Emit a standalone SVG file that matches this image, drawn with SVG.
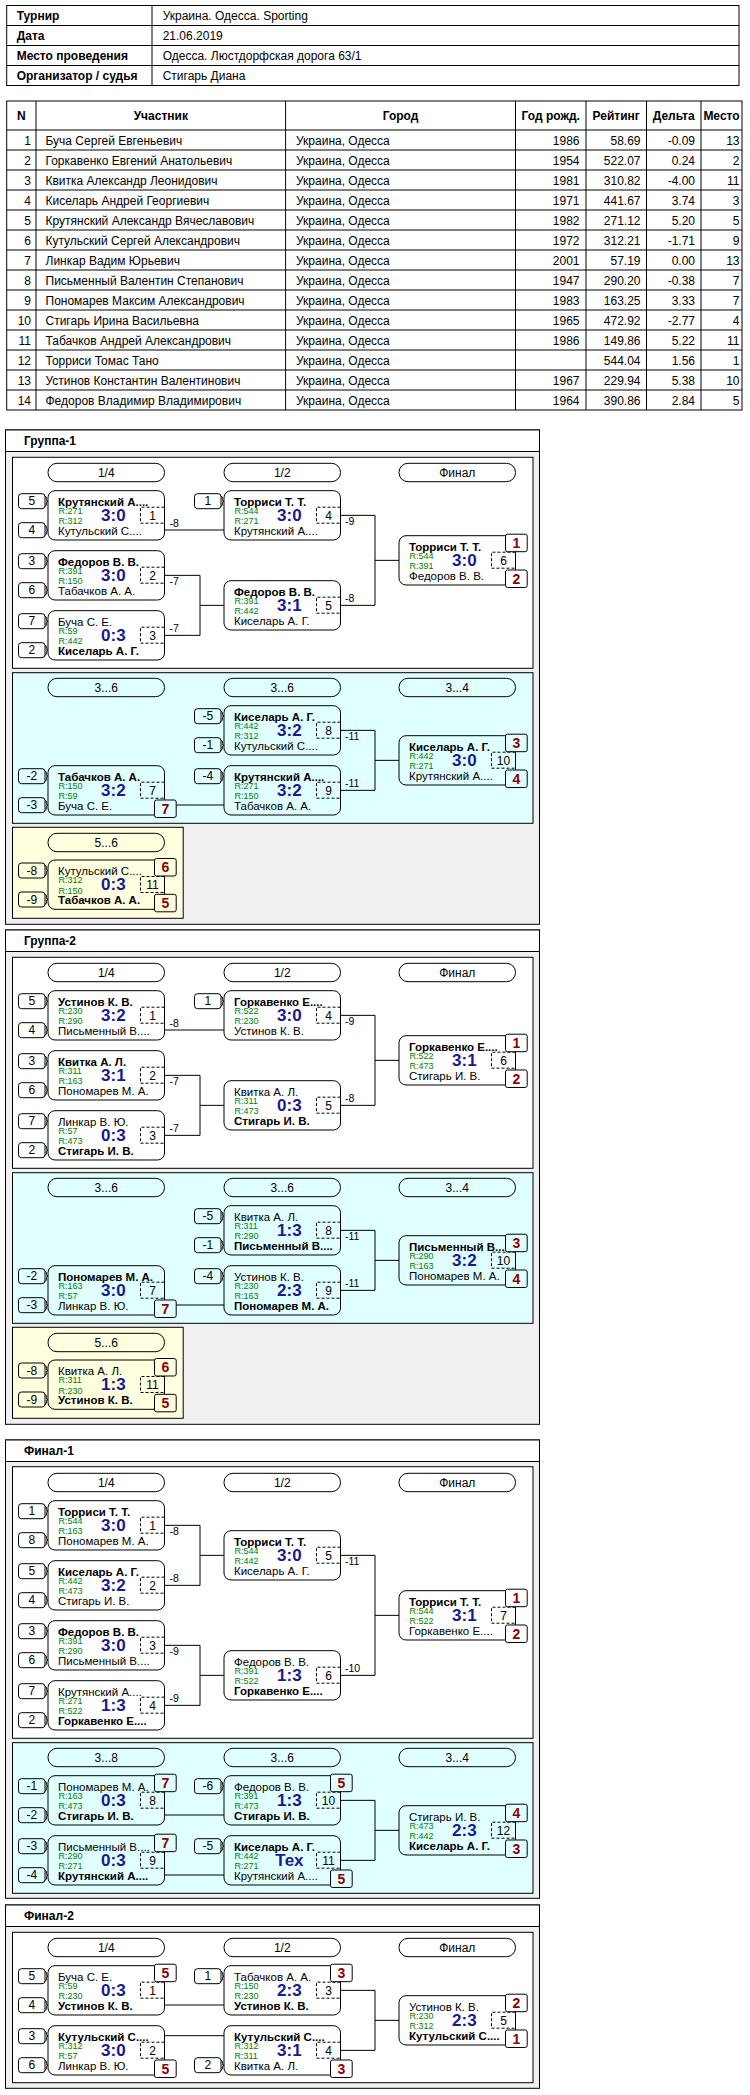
<svg xmlns="http://www.w3.org/2000/svg" width="750" height="2095" viewBox="0 0 750 2095">
<style>
text{font-family:'Liberation Sans',Arial,sans-serif;fill:#000}
.ln{fill:none;stroke:#000;stroke-width:1}
.bx{fill:none;stroke:#000}
.ob{fill:#f0f0f0;stroke:#000}
.wp{fill:#fff;stroke:#000}
.cp{fill:#e0ffff;stroke:#000}
.yp{fill:#ffffe0;stroke:#000}
.ds{fill:none;stroke:#000;stroke-dasharray:3 2}
.pb{fill:#fff;stroke:#000}
.pb.c{fill:#e0ffff}
.pb.y{fill:#ffffe0}
.f12{font-size:12px}
.hb{font-size:12px;font-weight:bold}
.n{font-size:11.5px}
.b{font-weight:bold}
.r{font-size:9px;fill:#008000}
.sc{font-size:17px;font-weight:bold;fill:#1a1a8c;text-anchor:middle}
.m{font-size:12px;text-anchor:middle}
.pl{font-size:14px;font-weight:bold;fill:#8b0000;text-anchor:middle}
.lb{font-size:10.5px}
.e{text-anchor:end}
.mid{text-anchor:middle}
</style>
<defs>
<g id="mb"><rect class="bx" width="116.5" height="49.3" rx="7"/><path class="ds" d="M116.5,16.5H92.5V32.5H116.5"/></g>
<g id="sd"><rect class="bx" x="-29.5" width="26.5" height="15" rx="3"/><path class="ln" d="M-3,2.5Q-1.5,2.5 -1.5,5.5V6Q-1.5,7.5 0,7.5Q-1.5,7.5 -1.5,9V9.5Q-1.5,12.5 -3,12.5"/></g>
<rect id="pill" class="bx" width="116.5" height="18.4" rx="9"/>
</defs>
<rect width="750" height="2095" fill="#fff"/>

<g id="info">
<rect class="bx" x="6.7" y="5.5" width="732.3" height="80"/>
<path class="ln" d="M6.7,25.5H739M6.7,45.5H739M6.7,65.5H739M152,5.5V85.5"/>
<text class="hb" x="16.7" y="20">Турнир</text>
<text class="hb" x="16.7" y="40">Дата</text>
<text class="hb" x="16.7" y="60">Место проведения</text>
<text class="hb" x="16.7" y="80">Организатор / судья</text>
<text class="f12" x="162.7" y="20">Украина. Одесса. Sporting</text>
<text class="f12" x="162.7" y="40">21.06.2019</text>
<text class="f12" x="162.7" y="60">Одесса. Люстдорфская дорога 63/1</text>
<text class="f12" x="162.7" y="80">Стигарь Диана</text>
</g>

<g id="participants">
<rect class="bx" x="6.7" y="101" width="735.3" height="309"/>
<path class="ln" d="M6.7,130H742M6.7,150H742M6.7,170H742M6.7,190H742M6.7,210H742M6.7,230H742M6.7,250H742M6.7,270H742M6.7,290H742M6.7,310H742M6.7,330H742M6.7,350H742M6.7,370H742M6.7,390H742M36,101V410M285.6,101V410M515.5,101V410M586,101V410M646.5,101V410M701,101V410"/>
<text class="hb mid" y="120"><tspan x="21.4">N</tspan><tspan x="160.8">Участник</tspan><tspan x="400.5">Город</tspan><tspan x="550.7">Год рожд.</tspan><tspan x="616.2">Рейтинг</tspan><tspan x="673.7">Дельта</tspan><tspan x="721.5">Место</tspan></text>
<text class="f12 e"><tspan x="31" y="144.8">1</tspan><tspan x="31" y="164.8">2</tspan><tspan x="31" y="184.8">3</tspan><tspan x="31" y="204.8">4</tspan><tspan x="31" y="224.8">5</tspan><tspan x="31" y="244.8">6</tspan><tspan x="31" y="264.8">7</tspan><tspan x="31" y="284.8">8</tspan><tspan x="31" y="304.8">9</tspan><tspan x="31" y="324.8">10</tspan><tspan x="31" y="344.8">11</tspan><tspan x="31" y="364.8">12</tspan><tspan x="31" y="384.8">13</tspan><tspan x="31" y="404.8">14</tspan></text>
<text class="f12"><tspan x="45.5" y="144.8">Буча Сергей Евгеньевич</tspan><tspan x="45.5" y="164.8">Горкавенко Евгений Анатольевич</tspan><tspan x="45.5" y="184.8">Квитка Александр Леонидович</tspan><tspan x="45.5" y="204.8">Киселарь Андрей Георгиевич</tspan><tspan x="45.5" y="224.8">Крутянский Александр Вячеславович</tspan><tspan x="45.5" y="244.8">Кутульский Сергей Александрович</tspan><tspan x="45.5" y="264.8">Линкар Вадим Юрьевич</tspan><tspan x="45.5" y="284.8">Письменный Валентин Степанович</tspan><tspan x="45.5" y="304.8">Пономарев Максим Александрович</tspan><tspan x="45.5" y="324.8">Стигарь Ирина Васильевна</tspan><tspan x="45.5" y="344.8">Табачков Андрей Александрович</tspan><tspan x="45.5" y="364.8">Торриси Томас Тано</tspan><tspan x="45.5" y="384.8">Устинов Константин Валентинович</tspan><tspan x="45.5" y="404.8">Федоров Владимир Владимирович</tspan></text>
<text class="f12"><tspan x="296" y="144.8">Украина, Одесса</tspan><tspan x="296" y="164.8">Украина, Одесса</tspan><tspan x="296" y="184.8">Украина, Одесса</tspan><tspan x="296" y="204.8">Украина, Одесса</tspan><tspan x="296" y="224.8">Украина, Одесса</tspan><tspan x="296" y="244.8">Украина, Одесса</tspan><tspan x="296" y="264.8">Украина, Одесса</tspan><tspan x="296" y="284.8">Украина, Одесса</tspan><tspan x="296" y="304.8">Украина, Одесса</tspan><tspan x="296" y="324.8">Украина, Одесса</tspan><tspan x="296" y="344.8">Украина, Одесса</tspan><tspan x="296" y="364.8">Украина, Одесса</tspan><tspan x="296" y="384.8">Украина, Одесса</tspan><tspan x="296" y="404.8">Украина, Одесса</tspan></text>
<text class="f12 e"><tspan x="579.5" y="144.8">1986</tspan><tspan x="579.5" y="164.8">1954</tspan><tspan x="579.5" y="184.8">1981</tspan><tspan x="579.5" y="204.8">1971</tspan><tspan x="579.5" y="224.8">1982</tspan><tspan x="579.5" y="244.8">1972</tspan><tspan x="579.5" y="264.8">2001</tspan><tspan x="579.5" y="284.8">1947</tspan><tspan x="579.5" y="304.8">1983</tspan><tspan x="579.5" y="324.8">1965</tspan><tspan x="579.5" y="344.8">1986</tspan><tspan x="579.5" y="384.8">1967</tspan><tspan x="579.5" y="404.8">1964</tspan></text>
<text class="f12 e"><tspan x="640.5" y="144.8">58.69</tspan><tspan x="640.5" y="164.8">522.07</tspan><tspan x="640.5" y="184.8">310.82</tspan><tspan x="640.5" y="204.8">441.67</tspan><tspan x="640.5" y="224.8">271.12</tspan><tspan x="640.5" y="244.8">312.21</tspan><tspan x="640.5" y="264.8">57.19</tspan><tspan x="640.5" y="284.8">290.20</tspan><tspan x="640.5" y="304.8">163.25</tspan><tspan x="640.5" y="324.8">472.92</tspan><tspan x="640.5" y="344.8">149.86</tspan><tspan x="640.5" y="364.8">544.04</tspan><tspan x="640.5" y="384.8">229.94</tspan><tspan x="640.5" y="404.8">390.86</tspan></text>
<text class="f12 e"><tspan x="695" y="144.8">-0.09</tspan><tspan x="695" y="164.8">0.24</tspan><tspan x="695" y="184.8">-4.00</tspan><tspan x="695" y="204.8">3.74</tspan><tspan x="695" y="224.8">5.20</tspan><tspan x="695" y="244.8">-1.71</tspan><tspan x="695" y="264.8">0.00</tspan><tspan x="695" y="284.8">-0.38</tspan><tspan x="695" y="304.8">3.33</tspan><tspan x="695" y="324.8">-2.77</tspan><tspan x="695" y="344.8">5.22</tspan><tspan x="695" y="364.8">1.56</tspan><tspan x="695" y="384.8">5.38</tspan><tspan x="695" y="404.8">2.84</tspan></text>
<text class="f12 e"><tspan x="739.5" y="144.8">13</tspan><tspan x="739.5" y="164.8">2</tspan><tspan x="739.5" y="184.8">11</tspan><tspan x="739.5" y="204.8">3</tspan><tspan x="739.5" y="224.8">5</tspan><tspan x="739.5" y="244.8">9</tspan><tspan x="739.5" y="264.8">13</tspan><tspan x="739.5" y="284.8">7</tspan><tspan x="739.5" y="304.8">7</tspan><tspan x="739.5" y="324.8">4</tspan><tspan x="739.5" y="344.8">11</tspan><tspan x="739.5" y="364.8">1</tspan><tspan x="739.5" y="384.8">10</tspan><tspan x="739.5" y="404.8">5</tspan></text>
</g>

<g id="panels">
<rect class="ob" x="5.5" y="430" width="534" height="494.3"/>
<rect class="wp" x="5.5" y="430" width="534" height="21.5"/>
<text class="hb" x="24" y="445">Группа-1</text>
<rect class="wp" x="12.5" y="457.3" width="520.5" height="211"/>
<rect class="cp" x="12.5" y="672.7" width="520.5" height="150.6"/>
<rect class="yp" x="12.5" y="827.3" width="170.7" height="91"/>
<use href="#pill" x="48" y="463.3"/><use href="#pill" x="224" y="463.3"/><use href="#pill" x="399" y="463.3"/>
<use href="#pill" x="48" y="678.3"/><use href="#pill" x="224" y="678.3"/><use href="#pill" x="399" y="678.3"/>
<use href="#pill" x="48" y="833.3"/>
<text class="m"><tspan x="106.25" y="476.6">1/4</tspan><tspan x="282.25" y="476.6">1/2</tspan><tspan x="457.25" y="476.6">Финал</tspan><tspan x="106.25" y="691.6">3...6</tspan><tspan x="282.25" y="691.6">3...6</tspan><tspan x="457.25" y="691.6">3...4</tspan><tspan x="106.25" y="846.6">5...6</tspan></text>

<rect class="ob" x="5.5" y="930" width="534" height="494.3"/>
<rect class="wp" x="5.5" y="930" width="534" height="21.5"/>
<text class="hb" x="24" y="945">Группа-2</text>
<rect class="wp" x="12.5" y="957.3" width="520.5" height="211"/>
<rect class="cp" x="12.5" y="1172.7" width="520.5" height="150.6"/>
<rect class="yp" x="12.5" y="1327.3" width="170.7" height="91"/>
<use href="#pill" x="48" y="963.3"/><use href="#pill" x="224" y="963.3"/><use href="#pill" x="399" y="963.3"/>
<use href="#pill" x="48" y="1178.3"/><use href="#pill" x="224" y="1178.3"/><use href="#pill" x="399" y="1178.3"/>
<use href="#pill" x="48" y="1333.3"/>
<text class="m"><tspan x="106.25" y="976.6">1/4</tspan><tspan x="282.25" y="976.6">1/2</tspan><tspan x="457.25" y="976.6">Финал</tspan><tspan x="106.25" y="1191.6">3...6</tspan><tspan x="282.25" y="1191.6">3...6</tspan><tspan x="457.25" y="1191.6">3...4</tspan><tspan x="106.25" y="1346.6">5...6</tspan></text>

<rect class="ob" x="5.5" y="1440" width="534" height="458.3"/>
<rect class="wp" x="5.5" y="1440" width="534" height="21.5"/>
<text class="hb" x="24" y="1455">Финал-1</text>
<rect class="wp" x="12.5" y="1466.7" width="520.5" height="271.6"/>
<rect class="cp" x="12.5" y="1742.7" width="520.5" height="150.6"/>
<use href="#pill" x="48" y="1473.3"/><use href="#pill" x="224" y="1473.3"/><use href="#pill" x="399" y="1473.3"/>
<use href="#pill" x="48" y="1748.3"/><use href="#pill" x="224" y="1748.3"/><use href="#pill" x="399" y="1748.3"/>
<text class="m"><tspan x="106.25" y="1486.6">1/4</tspan><tspan x="282.25" y="1486.6">1/2</tspan><tspan x="457.25" y="1486.6">Финал</tspan><tspan x="106.25" y="1761.6">3...8</tspan><tspan x="282.25" y="1761.6">3...6</tspan><tspan x="457.25" y="1761.6">3...4</tspan></text>

<rect class="ob" x="5.5" y="1905" width="534" height="183.3"/>
<rect class="wp" x="5.5" y="1905" width="534" height="21.5"/>
<text class="hb" x="24" y="1920">Финал-2</text>
<rect class="wp" x="12.5" y="1932.3" width="520.5" height="150.4"/>
<use href="#pill" x="48" y="1938.3"/><use href="#pill" x="224" y="1938.3"/><use href="#pill" x="399" y="1938.3"/>
<text class="m"><tspan x="106.25" y="1951.6">1/4</tspan><tspan x="282.25" y="1951.6">1/2</tspan><tspan x="457.25" y="1951.6">Финал</tspan></text>
</g>

<g id="connectors">
<path class="ln" d="M164.5,530H224M164.5,575.35H200V635.35H164.5M200,605.35H224M340.5,515.35H375V605.35H340.5M375,560.35H399M176.2,805H224M340.5,730.35H375V790.35H340.5M375,760.35H399"/>
<path class="ln" d="M164.5,1030H224M164.5,1075.35H200V1135.35H164.5M200,1105.35H224M340.5,1015.35H375V1105.35H340.5M375,1060.35H399M176.2,1305H224M340.5,1230.35H375V1290.35H340.5M375,1260.35H399"/>
<path class="ln" d="M164.5,1525.35H200V1585.35H164.5M200,1555.35H224M164.5,1645.35H200V1705.35H164.5M200,1675.35H224M340.5,1555.35H375V1675.35H340.5M375,1615.35H399M164.5,1815H224M164.5,1875H224M340.5,1800.35H375V1860.35H340.5M375,1830.35H399"/>
<path class="ln" d="M164.5,2005H224M164.5,2035.7H224M340.5,1990.35H375V2050.35H340.5M375,2020.35H399"/>
<text class="lb"><tspan x="169.5" y="527.3">-8</tspan><tspan x="169.5" y="585.35">-7</tspan><tspan x="169.5" y="632.35">-7</tspan><tspan x="345" y="525.35">-9</tspan><tspan x="345" y="602.35">-8</tspan><tspan x="345" y="740.35">-11</tspan><tspan x="345" y="787.35">-11</tspan></text>
<text class="lb"><tspan x="169.5" y="1027.3">-8</tspan><tspan x="169.5" y="1085.35">-7</tspan><tspan x="169.5" y="1132.35">-7</tspan><tspan x="345" y="1025.35">-9</tspan><tspan x="345" y="1102.35">-8</tspan><tspan x="345" y="1240.35">-11</tspan><tspan x="345" y="1287.35">-11</tspan></text>
<text class="lb"><tspan x="169.5" y="1535.35">-8</tspan><tspan x="169.5" y="1582.35">-8</tspan><tspan x="169.5" y="1655.35">-9</tspan><tspan x="169.5" y="1702.35">-9</tspan><tspan x="345" y="1565.35">-11</tspan><tspan x="345" y="1672.35">-10</tspan></text>
</g>

<!-- Группа-1 -->
<g id="g1-m1" transform="translate(48,490.7)"><use href="#sd" y="3"/><text class="m" x="-16.25" y="14.8">5</text><use href="#sd" y="32"/><text class="m" x="-16.25" y="43.8">4</text><use href="#mb"/><text class="n b" x="10" y="15">Крутянский А....</text><text class="r" x="10.5" y="23.3">R:271</text><text class="r" x="10.5" y="33.6">R:312</text><text class="sc" x="65.4" y="30.3">3:0</text><text class="m" x="104.5" y="29">1</text><text class="n" x="10" y="44.3">Кутульский С....</text></g>
<g id="g1-m2" transform="translate(48,550.7)"><use href="#sd" y="3"/><text class="m" x="-16.25" y="14.8">3</text><use href="#sd" y="32"/><text class="m" x="-16.25" y="43.8">6</text><use href="#mb"/><text class="n b" x="10" y="15">Федоров В. В.</text><text class="r" x="10.5" y="23.3">R:391</text><text class="r" x="10.5" y="33.6">R:150</text><text class="sc" x="65.4" y="30.3">3:0</text><text class="m" x="104.5" y="29">2</text><text class="n" x="10" y="44.3">Табачков А. А.</text></g>
<g id="g1-m3" transform="translate(48,610.7)"><use href="#sd" y="3"/><text class="m" x="-16.25" y="14.8">7</text><use href="#sd" y="32"/><text class="m" x="-16.25" y="43.8">2</text><use href="#mb"/><text class="n" x="10" y="15">Буча С. Е.</text><text class="r" x="10.5" y="23.3">R:59</text><text class="r" x="10.5" y="33.6">R:442</text><text class="sc" x="65.4" y="30.3">0:3</text><text class="m" x="104.5" y="29">3</text><text class="n b" x="10" y="44.3">Киселарь А. Г.</text></g>
<g id="g1-m4" transform="translate(224,490.7)"><use href="#sd" y="3"/><text class="m" x="-16.25" y="14.8">1</text><use href="#mb"/><text class="n b" x="10" y="15">Торриси Т. Т.</text><text class="r" x="10.5" y="23.3">R:544</text><text class="r" x="10.5" y="33.6">R:271</text><text class="sc" x="65.4" y="30.3">3:0</text><text class="m" x="104.5" y="29">4</text><text class="n" x="10" y="44.3">Крутянский А....</text></g>
<g id="g1-m5" transform="translate(224,580.7)"><use href="#mb"/><text class="n b" x="10" y="15">Федоров В. В.</text><text class="r" x="10.5" y="23.3">R:391</text><text class="r" x="10.5" y="33.6">R:442</text><text class="sc" x="65.4" y="30.3">3:1</text><text class="m" x="104.5" y="29">5</text><text class="n" x="10" y="44.3">Киселарь А. Г.</text></g>
<g id="g1-m6" transform="translate(399,535.7)"><use href="#mb"/><text class="n b" x="10" y="15">Торриси Т. Т.</text><text class="r" x="10.5" y="23.3">R:544</text><text class="r" x="10.5" y="33.6">R:391</text><text class="sc" x="65.4" y="30.3">3:0</text><text class="m" x="104.5" y="29">6</text><text class="n" x="10" y="44.3">Федоров В. В.</text><rect class="pb" x="106.5" y="-1.5" width="21.7" height="17.5" rx="2"/><text class="pl" x="117.35" y="12.3">1</text><rect class="pb" x="106.5" y="34.3" width="21.7" height="17.5" rx="2"/><text class="pl" x="117.35" y="48.1">2</text></g>
<g id="g1-m7" transform="translate(48,765.7)"><use href="#sd" y="3"/><text class="m" x="-16.25" y="14.8">-2</text><use href="#sd" y="32"/><text class="m" x="-16.25" y="43.8">-3</text><use href="#mb"/><text class="n b" x="10" y="15">Табачков А. А.</text><text class="r" x="10.5" y="23.3">R:150</text><text class="r" x="10.5" y="33.6">R:59</text><text class="sc" x="65.4" y="30.3">3:2</text><text class="m" x="104.5" y="29">7</text><text class="n" x="10" y="44.3">Буча С. Е.</text><rect class="pb c" x="106.5" y="34.3" width="21.7" height="17.5" rx="2"/><text class="pl" x="117.35" y="48.1">7</text></g>
<g id="g1-m8" transform="translate(224,705.7)"><use href="#sd" y="3"/><text class="m" x="-16.25" y="14.8">-5</text><use href="#sd" y="32"/><text class="m" x="-16.25" y="43.8">-1</text><use href="#mb"/><text class="n b" x="10" y="15">Киселарь А. Г.</text><text class="r" x="10.5" y="23.3">R:442</text><text class="r" x="10.5" y="33.6">R:312</text><text class="sc" x="65.4" y="30.3">3:2</text><text class="m" x="104.5" y="29">8</text><text class="n" x="10" y="44.3">Кутульский С....</text></g>
<g id="g1-m9" transform="translate(224,765.7)"><use href="#sd" y="3"/><text class="m" x="-16.25" y="14.8">-4</text><use href="#mb"/><text class="n b" x="10" y="15">Крутянский А....</text><text class="r" x="10.5" y="23.3">R:271</text><text class="r" x="10.5" y="33.6">R:150</text><text class="sc" x="65.4" y="30.3">3:2</text><text class="m" x="104.5" y="29">9</text><text class="n" x="10" y="44.3">Табачков А. А.</text></g>
<g id="g1-m10" transform="translate(399,735.7)"><use href="#mb"/><text class="n b" x="10" y="15">Киселарь А. Г.</text><text class="r" x="10.5" y="23.3">R:442</text><text class="r" x="10.5" y="33.6">R:271</text><text class="sc" x="65.4" y="30.3">3:0</text><text class="m" x="104.5" y="29">10</text><text class="n" x="10" y="44.3">Крутянский А....</text><rect class="pb c" x="106.5" y="-1.5" width="21.7" height="17.5" rx="2"/><text class="pl" x="117.35" y="12.3">3</text><rect class="pb c" x="106.5" y="34.3" width="21.7" height="17.5" rx="2"/><text class="pl" x="117.35" y="48.1">4</text></g>
<g id="g1-m11" transform="translate(48,860)"><use href="#sd" y="3"/><text class="m" x="-16.25" y="14.8">-8</text><use href="#sd" y="32"/><text class="m" x="-16.25" y="43.8">-9</text><use href="#mb"/><text class="n" x="10" y="15">Кутульский С....</text><text class="r" x="10.5" y="23.3">R:312</text><text class="r" x="10.5" y="33.6">R:150</text><text class="sc" x="65.4" y="30.3">0:3</text><text class="m" x="104.5" y="29">11</text><text class="n b" x="10" y="44.3">Табачков А. А.</text><rect class="pb y" x="106.5" y="-1.5" width="21.7" height="17.5" rx="2"/><text class="pl" x="117.35" y="12.3">6</text><rect class="pb y" x="106.5" y="34.3" width="21.7" height="17.5" rx="2"/><text class="pl" x="117.35" y="48.1">5</text></g>

<!-- Группа-2 -->
<g id="g2-m1" transform="translate(48,990.7)"><use href="#sd" y="3"/><text class="m" x="-16.25" y="14.8">5</text><use href="#sd" y="32"/><text class="m" x="-16.25" y="43.8">4</text><use href="#mb"/><text class="n b" x="10" y="15">Устинов К. В.</text><text class="r" x="10.5" y="23.3">R:230</text><text class="r" x="10.5" y="33.6">R:290</text><text class="sc" x="65.4" y="30.3">3:2</text><text class="m" x="104.5" y="29">1</text><text class="n" x="10" y="44.3">Письменный В....</text></g>
<g id="g2-m2" transform="translate(48,1050.7)"><use href="#sd" y="3"/><text class="m" x="-16.25" y="14.8">3</text><use href="#sd" y="32"/><text class="m" x="-16.25" y="43.8">6</text><use href="#mb"/><text class="n b" x="10" y="15">Квитка А. Л.</text><text class="r" x="10.5" y="23.3">R:311</text><text class="r" x="10.5" y="33.6">R:163</text><text class="sc" x="65.4" y="30.3">3:1</text><text class="m" x="104.5" y="29">2</text><text class="n" x="10" y="44.3">Пономарев М. А.</text></g>
<g id="g2-m3" transform="translate(48,1110.7)"><use href="#sd" y="3"/><text class="m" x="-16.25" y="14.8">7</text><use href="#sd" y="32"/><text class="m" x="-16.25" y="43.8">2</text><use href="#mb"/><text class="n" x="10" y="15">Линкар В. Ю.</text><text class="r" x="10.5" y="23.3">R:57</text><text class="r" x="10.5" y="33.6">R:473</text><text class="sc" x="65.4" y="30.3">0:3</text><text class="m" x="104.5" y="29">3</text><text class="n b" x="10" y="44.3">Стигарь И. В.</text></g>
<g id="g2-m4" transform="translate(224,990.7)"><use href="#sd" y="3"/><text class="m" x="-16.25" y="14.8">1</text><use href="#mb"/><text class="n b" x="10" y="15">Горкавенко Е....</text><text class="r" x="10.5" y="23.3">R:522</text><text class="r" x="10.5" y="33.6">R:230</text><text class="sc" x="65.4" y="30.3">3:0</text><text class="m" x="104.5" y="29">4</text><text class="n" x="10" y="44.3">Устинов К. В.</text></g>
<g id="g2-m5" transform="translate(224,1080.7)"><use href="#mb"/><text class="n" x="10" y="15">Квитка А. Л.</text><text class="r" x="10.5" y="23.3">R:311</text><text class="r" x="10.5" y="33.6">R:473</text><text class="sc" x="65.4" y="30.3">0:3</text><text class="m" x="104.5" y="29">5</text><text class="n b" x="10" y="44.3">Стигарь И. В.</text></g>
<g id="g2-m6" transform="translate(399,1035.7)"><use href="#mb"/><text class="n b" x="10" y="15">Горкавенко Е....</text><text class="r" x="10.5" y="23.3">R:522</text><text class="r" x="10.5" y="33.6">R:473</text><text class="sc" x="65.4" y="30.3">3:1</text><text class="m" x="104.5" y="29">6</text><text class="n" x="10" y="44.3">Стигарь И. В.</text><rect class="pb" x="106.5" y="-1.5" width="21.7" height="17.5" rx="2"/><text class="pl" x="117.35" y="12.3">1</text><rect class="pb" x="106.5" y="34.3" width="21.7" height="17.5" rx="2"/><text class="pl" x="117.35" y="48.1">2</text></g>
<g id="g2-m7" transform="translate(48,1265.7)"><use href="#sd" y="3"/><text class="m" x="-16.25" y="14.8">-2</text><use href="#sd" y="32"/><text class="m" x="-16.25" y="43.8">-3</text><use href="#mb"/><text class="n b" x="10" y="15">Пономарев М. А.</text><text class="r" x="10.5" y="23.3">R:163</text><text class="r" x="10.5" y="33.6">R:57</text><text class="sc" x="65.4" y="30.3">3:0</text><text class="m" x="104.5" y="29">7</text><text class="n" x="10" y="44.3">Линкар В. Ю.</text><rect class="pb c" x="106.5" y="34.3" width="21.7" height="17.5" rx="2"/><text class="pl" x="117.35" y="48.1">7</text></g>
<g id="g2-m8" transform="translate(224,1205.7)"><use href="#sd" y="3"/><text class="m" x="-16.25" y="14.8">-5</text><use href="#sd" y="32"/><text class="m" x="-16.25" y="43.8">-1</text><use href="#mb"/><text class="n" x="10" y="15">Квитка А. Л.</text><text class="r" x="10.5" y="23.3">R:311</text><text class="r" x="10.5" y="33.6">R:290</text><text class="sc" x="65.4" y="30.3">1:3</text><text class="m" x="104.5" y="29">8</text><text class="n b" x="10" y="44.3">Письменный В....</text></g>
<g id="g2-m9" transform="translate(224,1265.7)"><use href="#sd" y="3"/><text class="m" x="-16.25" y="14.8">-4</text><use href="#mb"/><text class="n" x="10" y="15">Устинов К. В.</text><text class="r" x="10.5" y="23.3">R:230</text><text class="r" x="10.5" y="33.6">R:163</text><text class="sc" x="65.4" y="30.3">2:3</text><text class="m" x="104.5" y="29">9</text><text class="n b" x="10" y="44.3">Пономарев М. А.</text></g>
<g id="g2-m10" transform="translate(399,1235.7)"><use href="#mb"/><text class="n b" x="10" y="15">Письменный В....</text><text class="r" x="10.5" y="23.3">R:290</text><text class="r" x="10.5" y="33.6">R:163</text><text class="sc" x="65.4" y="30.3">3:2</text><text class="m" x="104.5" y="29">10</text><text class="n" x="10" y="44.3">Пономарев М. А.</text><rect class="pb c" x="106.5" y="-1.5" width="21.7" height="17.5" rx="2"/><text class="pl" x="117.35" y="12.3">3</text><rect class="pb c" x="106.5" y="34.3" width="21.7" height="17.5" rx="2"/><text class="pl" x="117.35" y="48.1">4</text></g>
<g id="g2-m11" transform="translate(48,1360)"><use href="#sd" y="3"/><text class="m" x="-16.25" y="14.8">-8</text><use href="#sd" y="32"/><text class="m" x="-16.25" y="43.8">-9</text><use href="#mb"/><text class="n" x="10" y="15">Квитка А. Л.</text><text class="r" x="10.5" y="23.3">R:311</text><text class="r" x="10.5" y="33.6">R:230</text><text class="sc" x="65.4" y="30.3">1:3</text><text class="m" x="104.5" y="29">11</text><text class="n b" x="10" y="44.3">Устинов К. В.</text><rect class="pb y" x="106.5" y="-1.5" width="21.7" height="17.5" rx="2"/><text class="pl" x="117.35" y="12.3">6</text><rect class="pb y" x="106.5" y="34.3" width="21.7" height="17.5" rx="2"/><text class="pl" x="117.35" y="48.1">5</text></g>

<!-- Финал-1 -->
<g id="f1-m1" transform="translate(48,1500.7)"><use href="#sd" y="3"/><text class="m" x="-16.25" y="14.8">1</text><use href="#sd" y="32"/><text class="m" x="-16.25" y="43.8">8</text><use href="#mb"/><text class="n b" x="10" y="15">Торриси Т. Т.</text><text class="r" x="10.5" y="23.3">R:544</text><text class="r" x="10.5" y="33.6">R:163</text><text class="sc" x="65.4" y="30.3">3:0</text><text class="m" x="104.5" y="29">1</text><text class="n" x="10" y="44.3">Пономарев М. А.</text></g>
<g id="f1-m2" transform="translate(48,1560.7)"><use href="#sd" y="3"/><text class="m" x="-16.25" y="14.8">5</text><use href="#sd" y="32"/><text class="m" x="-16.25" y="43.8">4</text><use href="#mb"/><text class="n b" x="10" y="15">Киселарь А. Г.</text><text class="r" x="10.5" y="23.3">R:442</text><text class="r" x="10.5" y="33.6">R:473</text><text class="sc" x="65.4" y="30.3">3:2</text><text class="m" x="104.5" y="29">2</text><text class="n" x="10" y="44.3">Стигарь И. В.</text></g>
<g id="f1-m3" transform="translate(48,1620.7)"><use href="#sd" y="3"/><text class="m" x="-16.25" y="14.8">3</text><use href="#sd" y="32"/><text class="m" x="-16.25" y="43.8">6</text><use href="#mb"/><text class="n b" x="10" y="15">Федоров В. В.</text><text class="r" x="10.5" y="23.3">R:391</text><text class="r" x="10.5" y="33.6">R:290</text><text class="sc" x="65.4" y="30.3">3:0</text><text class="m" x="104.5" y="29">3</text><text class="n" x="10" y="44.3">Письменный В....</text></g>
<g id="f1-m4" transform="translate(48,1680.7)"><use href="#sd" y="3"/><text class="m" x="-16.25" y="14.8">7</text><use href="#sd" y="32"/><text class="m" x="-16.25" y="43.8">2</text><use href="#mb"/><text class="n" x="10" y="15">Крутянский А....</text><text class="r" x="10.5" y="23.3">R:271</text><text class="r" x="10.5" y="33.6">R:522</text><text class="sc" x="65.4" y="30.3">1:3</text><text class="m" x="104.5" y="29">4</text><text class="n b" x="10" y="44.3">Горкавенко Е....</text></g>
<g id="f1-m5" transform="translate(224,1530.7)"><use href="#mb"/><text class="n b" x="10" y="15">Торриси Т. Т.</text><text class="r" x="10.5" y="23.3">R:544</text><text class="r" x="10.5" y="33.6">R:442</text><text class="sc" x="65.4" y="30.3">3:0</text><text class="m" x="104.5" y="29">5</text><text class="n" x="10" y="44.3">Киселарь А. Г.</text></g>
<g id="f1-m6" transform="translate(224,1650.7)"><use href="#mb"/><text class="n" x="10" y="15">Федоров В. В.</text><text class="r" x="10.5" y="23.3">R:391</text><text class="r" x="10.5" y="33.6">R:522</text><text class="sc" x="65.4" y="30.3">1:3</text><text class="m" x="104.5" y="29">6</text><text class="n b" x="10" y="44.3">Горкавенко Е....</text></g>
<g id="f1-m7" transform="translate(399,1590.7)"><use href="#mb"/><text class="n b" x="10" y="15">Торриси Т. Т.</text><text class="r" x="10.5" y="23.3">R:544</text><text class="r" x="10.5" y="33.6">R:522</text><text class="sc" x="65.4" y="30.3">3:1</text><text class="m" x="104.5" y="29">7</text><text class="n" x="10" y="44.3">Горкавенко Е....</text><rect class="pb" x="106.5" y="-1.5" width="21.7" height="17.5" rx="2"/><text class="pl" x="117.35" y="12.3">1</text><rect class="pb" x="106.5" y="34.3" width="21.7" height="17.5" rx="2"/><text class="pl" x="117.35" y="48.1">2</text></g>
<g id="f1-m8" transform="translate(48,1775.7)"><use href="#sd" y="3"/><text class="m" x="-16.25" y="14.8">-1</text><use href="#sd" y="32"/><text class="m" x="-16.25" y="43.8">-2</text><use href="#mb"/><text class="n" x="10" y="15">Пономарев М. А.</text><text class="r" x="10.5" y="23.3">R:163</text><text class="r" x="10.5" y="33.6">R:473</text><text class="sc" x="65.4" y="30.3">0:3</text><text class="m" x="104.5" y="29">8</text><text class="n b" x="10" y="44.3">Стигарь И. В.</text><rect class="pb c" x="106.5" y="-1.5" width="21.7" height="17.5" rx="2"/><text class="pl" x="117.35" y="12.3">7</text></g>
<g id="f1-m9" transform="translate(48,1835.7)"><use href="#sd" y="3"/><text class="m" x="-16.25" y="14.8">-3</text><use href="#sd" y="32"/><text class="m" x="-16.25" y="43.8">-4</text><use href="#mb"/><text class="n" x="10" y="15">Письменный В....</text><text class="r" x="10.5" y="23.3">R:290</text><text class="r" x="10.5" y="33.6">R:271</text><text class="sc" x="65.4" y="30.3">0:3</text><text class="m" x="104.5" y="29">9</text><text class="n b" x="10" y="44.3">Крутянский А....</text><rect class="pb c" x="106.5" y="-1.5" width="21.7" height="17.5" rx="2"/><text class="pl" x="117.35" y="12.3">7</text></g>
<g id="f1-m10" transform="translate(224,1775.7)"><use href="#sd" y="3"/><text class="m" x="-16.25" y="14.8">-6</text><use href="#mb"/><text class="n" x="10" y="15">Федоров В. В.</text><text class="r" x="10.5" y="23.3">R:391</text><text class="r" x="10.5" y="33.6">R:473</text><text class="sc" x="65.4" y="30.3">1:3</text><text class="m" x="104.5" y="29">10</text><text class="n b" x="10" y="44.3">Стигарь И. В.</text><rect class="pb c" x="106.5" y="-1.5" width="21.7" height="17.5" rx="2"/><text class="pl" x="117.35" y="12.3">5</text></g>
<g id="f1-m11" transform="translate(224,1835.7)"><use href="#sd" y="3"/><text class="m" x="-16.25" y="14.8">-5</text><use href="#mb"/><text class="n b" x="10" y="15">Киселарь А. Г.</text><text class="r" x="10.5" y="23.3">R:442</text><text class="r" x="10.5" y="33.6">R:271</text><text class="sc" x="65.4" y="30.3">Тех</text><text class="m" x="104.5" y="29">11</text><text class="n" x="10" y="44.3">Крутянский А....</text><rect class="pb c" x="106.5" y="34.3" width="21.7" height="17.5" rx="2"/><text class="pl" x="117.35" y="48.1">5</text></g>
<g id="f1-m12" transform="translate(399,1805.7)"><use href="#mb"/><text class="n" x="10" y="15">Стигарь И. В.</text><text class="r" x="10.5" y="23.3">R:473</text><text class="r" x="10.5" y="33.6">R:442</text><text class="sc" x="65.4" y="30.3">2:3</text><text class="m" x="104.5" y="29">12</text><text class="n b" x="10" y="44.3">Киселарь А. Г.</text><rect class="pb c" x="106.5" y="-1.5" width="21.7" height="17.5" rx="2"/><text class="pl" x="117.35" y="12.3">4</text><rect class="pb c" x="106.5" y="34.3" width="21.7" height="17.5" rx="2"/><text class="pl" x="117.35" y="48.1">3</text></g>

<!-- Финал-2 -->
<g id="f2-m1" transform="translate(48,1965.7)"><use href="#sd" y="3"/><text class="m" x="-16.25" y="14.8">5</text><use href="#sd" y="32"/><text class="m" x="-16.25" y="43.8">4</text><use href="#mb"/><text class="n" x="10" y="15">Буча С. Е.</text><text class="r" x="10.5" y="23.3">R:59</text><text class="r" x="10.5" y="33.6">R:230</text><text class="sc" x="65.4" y="30.3">0:3</text><text class="m" x="104.5" y="29">1</text><text class="n b" x="10" y="44.3">Устинов К. В.</text><rect class="pb" x="106.5" y="-1.5" width="21.7" height="17.5" rx="2"/><text class="pl" x="117.35" y="12.3">5</text></g>
<g id="f2-m2" transform="translate(48,2025.7)"><use href="#sd" y="3"/><text class="m" x="-16.25" y="14.8">3</text><use href="#sd" y="32"/><text class="m" x="-16.25" y="43.8">6</text><use href="#mb"/><text class="n b" x="10" y="15">Кутульский С....</text><text class="r" x="10.5" y="23.3">R:312</text><text class="r" x="10.5" y="33.6">R:57</text><text class="sc" x="65.4" y="30.3">3:0</text><text class="m" x="104.5" y="29">2</text><text class="n" x="10" y="44.3">Линкар В. Ю.</text><rect class="pb" x="106.5" y="34.3" width="21.7" height="17.5" rx="2"/><text class="pl" x="117.35" y="48.1">5</text></g>
<g id="f2-m3" transform="translate(224,1965.7)"><use href="#sd" y="3"/><text class="m" x="-16.25" y="14.8">1</text><use href="#mb"/><text class="n" x="10" y="15">Табачков А. А.</text><text class="r" x="10.5" y="23.3">R:150</text><text class="r" x="10.5" y="33.6">R:230</text><text class="sc" x="65.4" y="30.3">2:3</text><text class="m" x="104.5" y="29">3</text><text class="n b" x="10" y="44.3">Устинов К. В.</text><rect class="pb" x="106.5" y="-1.5" width="21.7" height="17.5" rx="2"/><text class="pl" x="117.35" y="12.3">3</text></g>
<g id="f2-m4" transform="translate(224,2025.7)"><use href="#sd" y="32"/><text class="m" x="-16.25" y="43.8">2</text><use href="#mb"/><text class="n b" x="10" y="15">Кутульский С....</text><text class="r" x="10.5" y="23.3">R:312</text><text class="r" x="10.5" y="33.6">R:311</text><text class="sc" x="65.4" y="30.3">3:1</text><text class="m" x="104.5" y="29">4</text><text class="n" x="10" y="44.3">Квитка А. Л.</text><rect class="pb" x="106.5" y="34.3" width="21.7" height="17.5" rx="2"/><text class="pl" x="117.35" y="48.1">3</text></g>
<g id="f2-m5" transform="translate(399,1995.7)"><use href="#mb"/><text class="n" x="10" y="15">Устинов К. В.</text><text class="r" x="10.5" y="23.3">R:230</text><text class="r" x="10.5" y="33.6">R:312</text><text class="sc" x="65.4" y="30.3">2:3</text><text class="m" x="104.5" y="29">5</text><text class="n b" x="10" y="44.3">Кутульский С....</text><rect class="pb" x="106.5" y="-1.5" width="21.7" height="17.5" rx="2"/><text class="pl" x="117.35" y="12.3">2</text><rect class="pb" x="106.5" y="34.3" width="21.7" height="17.5" rx="2"/><text class="pl" x="117.35" y="48.1">1</text></g>
</svg>
